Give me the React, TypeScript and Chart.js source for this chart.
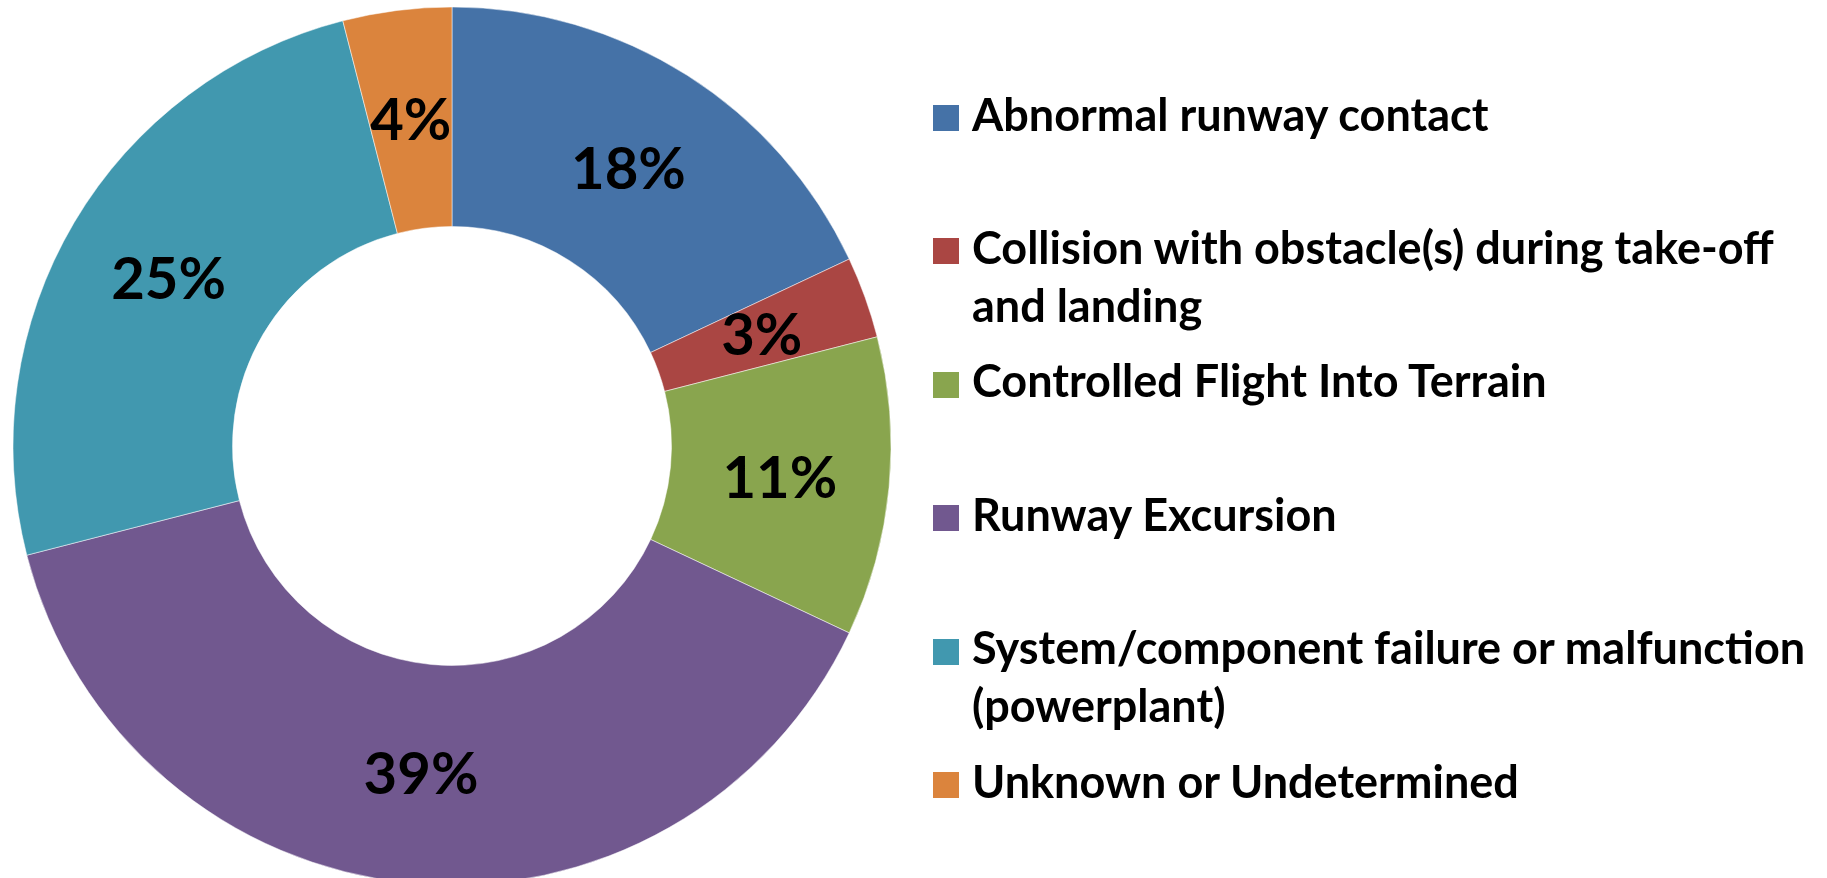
import React, { useEffect, useRef } from "react";
import { Chart, registerables } from "chart.js";

Chart.register(...registerables);

// ---- data ----
const categoryLines: string[][] = [
  ["Abnormal runway contact"],
  ["Collision with obstacle(s) during take-off", "and landing"],
  ["Controlled Flight Into Terrain"],
  ["Runway Excursion"],
  ["System/component failure or malfunction", "(powerplant)"],
  ["Unknown or Undetermined"],
];
const shares = [18, 3, 11, 39, 25, 4];
const sliceColors = ["#4572A7", "#AA4643", "#89A54E", "#71588F", "#4198AF", "#DB843D"];

// ---- layout ----
const W = 1827;
const H = 878;
const FONT = 'Lato, "Open Sans", sans-serif';
const LEGEND_TOP = 105;
const LEGEND_STEP = 133.4;
const LEGEND_BOX_X = 933;
const LEGEND_TEXT_X = 972;
const BOX = 26;
const LEGEND_FONT = 45;
const LINE_H = 58;

const pctLabels = {
  id: "pctLabels",
  afterDatasetsDraw(chart: any) {
    const ctx = chart.ctx as CanvasRenderingContext2D;
    const meta = chart.getDatasetMeta(0);
    const values = chart.data.datasets[0].data as number[];
    ctx.save();
    ctx.font = `bold 58px ${FONT}`;
    ctx.fillStyle = "#000";
    ctx.textAlign = "center";
    ctx.textBaseline = "middle";
    meta.data.forEach((arc: any, i: number) => {
      const p = arc.getCenterPoint();
      ctx.fillText(`${values[i]}%`, p.x, p.y + 2);
    });
    ctx.restore();
  },
};

export default function App() {
  const ref = useRef<HTMLCanvasElement | null>(null);

  useEffect(() => {
    document.body.style.margin = "0";
    const canvas = ref.current;
    if (!canvas) return;
    const chart = new Chart(canvas, {
      type: "doughnut",
      data: {
        labels: categoryLines.map((l) => l.join(" ")),
        datasets: [
          {
            data: shares,
            backgroundColor: sliceColors,
            borderColor: "#ffffff",
            borderWidth: 0.5,
            radius: 439,
          } as any,
        ],
      },
      options: {
        animation: false,
        responsive: false,
        maintainAspectRatio: false,
        cutout: "50%",
        layout: { padding: { left: 0, top: 14, right: W - 904, bottom: 0 } },
        plugins: {
          legend: { display: false },
          tooltip: { enabled: false },
        },
      } as any,
      plugins: [pctLabels],
    });
    return () => chart.destroy();
  }, []);

  return (
    <div style={{ position: "relative", width: W, height: H, overflow: "hidden", background: "#fff" }}>
      <canvas ref={ref} width={W} height={H} style={{ position: "absolute", left: 0, top: 0, display: "block" }} />
      {categoryLines.map((lines, i) => {
        const top = LEGEND_TOP + i * LEGEND_STEP;
        return (
          <React.Fragment key={i}>
            <div
              style={{
                position: "absolute",
                left: LEGEND_BOX_X,
                top,
                width: BOX,
                height: BOX,
                background: sliceColors[i],
              }}
            />
            <div
              style={{
                position: "absolute",
                left: LEGEND_TEXT_X,
                top: top - 20.5,
                fontFamily: FONT,
                fontWeight: 700,
                fontSize: LEGEND_FONT,
                lineHeight: `${LINE_H}px`,
                color: "#000",
                whiteSpace: "nowrap",
              }}
            >
              {lines.map((t, j) => (
                <div key={j}>{t}</div>
              ))}
            </div>
          </React.Fragment>
        );
      })}
    </div>
  );
}
